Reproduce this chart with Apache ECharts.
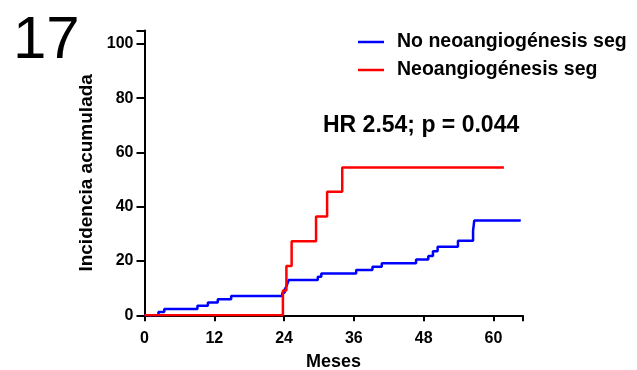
<!DOCTYPE html>
<html>
<head>
<meta charset="utf-8">
<script src="https://cdn.jsdelivr.net/npm/echarts@6/dist/echarts.min.js"></script>
<style>html,body{margin:0;padding:0;background:#fff;}#c{width:637px;height:370px;}</style>
</head>
<body>
<div id="c"></div>
<script>
const seriesNames = ['No neoangiogénesis seg', 'Neoangiogénesis seg'];
const xTicks = [0, 12, 24, 36, 48, 60];
const yTicks = [0, 20, 40, 60, 80, 100];
// [month, cumulative incidence %]
const noNeo = [[0,0],[2.4,1.2],[3.4,2.3],[9.1,3.5],[10.9,4.7],[12.6,5.9],[14.9,7.1],[23.7,8.3],[24.1,9.5],[24.4,10.7],[24.6,11.8],[24.8,13.0],[29.8,14.2],[30.4,15.4],[36.4,16.7],[39.2,17.9],[40.8,19.2],[46.7,20.6],[48.8,21.9],[49.6,23.6],[50.4,25.3],[53.9,27.5],[56.5,31.1],[56.7,34.9],[64.7,34.9]];
const neo = [[0,0],[23.8,9.1],[24.4,18.2],[25.3,27.3],[29.5,36.4],[31.4,45.5],[34.0,54.5],[61.8,54.5]];
const panelLabel = '17';
const annotation = 'HR 2.54; p = 0.044';
const xName = 'Meses';
const yName = 'Incidencia acumulada';

const FONT = '"Liberation Sans", Arial, sans-serif';
const chart = echarts.init(document.getElementById('c'), null, {renderer: 'canvas'});
chart.setOption({
  animation: false,
  backgroundColor: '#fff',
  grid: {left: 144.5, right: 114.5, top: 30.4, bottom: 54.7, containLabel: false, outerBoundsMode: 'none'},
  legend: {
    data: seriesNames,
    orient: 'vertical',
    left: 353, top: 27,
    icon: 'rect', itemWidth: 26, itemHeight: 2.5, itemGap: 8,
    textStyle: {fontFamily: FONT, fontWeight: 'bold', fontSize: 19.5, color: '#000', padding: [0,0,0,8]}
  },
  xAxis: {
    type: 'value', min: 0, max: 65, interval: 12,
    name: xName, nameLocation: 'middle', nameGap: 38,
    nameTextStyle: {fontFamily: FONT, fontWeight: 'bold', fontSize: 18, color: '#000'},
    axisLine: {show: true, lineStyle: {color: '#000', width: 2}},
    axisTick: {show: true, length: 6, lineStyle: {color: '#000', width: 2}},
    axisLabel: {fontFamily: FONT, fontWeight: 'bold', fontSize: 16, color: '#000', margin: 15,
      formatter: v => xTicks.includes(v) ? String(v) : ''},
    splitLine: {show: false}
  },
  yAxis: {
    type: 'value', min: 0, max: 105, interval: 20,
    name: yName, nameLocation: 'middle', nameGap: 47, nameRotate: 90,
    nameTextStyle: {fontFamily: FONT, fontWeight: 'bold', fontSize: 19, color: '#000'},
    axisLine: {show: true, lineStyle: {color: '#000', width: 2}},
    axisTick: {show: true, length: 8, lineStyle: {color: '#000', width: 2}},
    axisLabel: {fontFamily: FONT, fontWeight: 'bold', fontSize: 16, color: '#000', margin: 11,
      formatter: v => yTicks.includes(v) ? String(v) : ''},
    splitLine: {show: false}
  },
  series: [
    {name: seriesNames[0], type: 'line', step: 'end', data: noNeo, showSymbol: false, symbol: 'none',
     lineStyle: {color: '#0000ff', width: 2.5}, itemStyle: {color: '#0000ff'}, z: 2},
    {name: seriesNames[1], type: 'line', step: 'end', data: neo, showSymbol: false, symbol: 'none',
     lineStyle: {color: '#ff0000', width: 2.5}, itemStyle: {color: '#ff0000'}, z: 3}
  ],
  graphic: [
    {type: 'text', left: 13, top: 11, style: {text: panelLabel, font: 'normal 60px ' + FONT, fill: '#000'}},
    {type: 'text', x: 323, y: 125.5, style: {text: annotation, font: 'bold 23px ' + FONT, fill: '#000', align: 'left', verticalAlign: 'middle'}}
  ]
});
</script>
</body>
</html>
